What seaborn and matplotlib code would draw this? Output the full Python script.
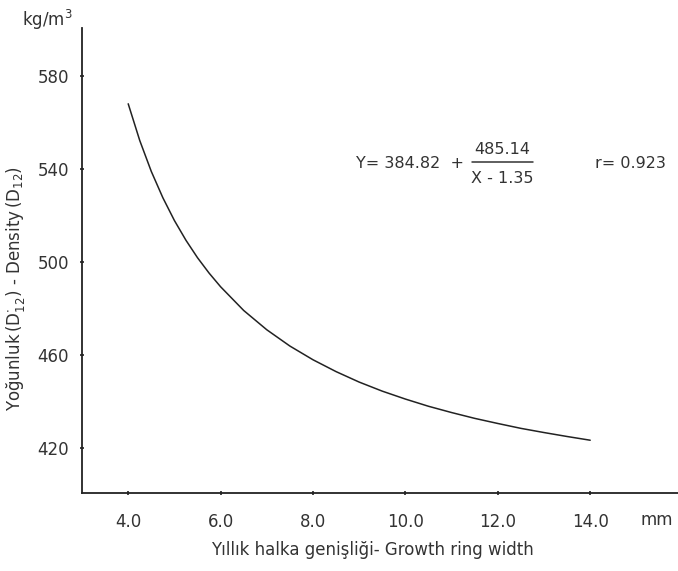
import matplotlib
matplotlib.use("Agg")
import matplotlib.pyplot as plt
import seaborn as sns
import pandas as pd
from matplotlib.lines import Line2D

# Values
ring_width = [4.0, 4.25, 4.5, 4.75, 5.0, 5.25, 5.5, 5.75, 6.0, 6.5, 7.0, 7.5, 8.0, 8.5,
              9.0, 9.5, 10.0, 10.5, 11.0, 11.5, 12.0, 12.5, 13.0, 13.5, 14.0]
density = [567.9, 552.1, 538.8, 527.5, 517.7, 509.2, 501.7, 495.1, 489.2, 479.0, 470.7,
           463.7, 457.8, 452.7, 448.2, 444.3, 440.9, 437.8, 435.1, 432.6, 430.4,
           428.3, 426.5, 424.8, 423.2]
x_ticks = [4.0, 6.0, 8.0, 10.0, 12.0, 14.0]
x_tick_labels = ["4.0", "6.0", "8.0", "10.0", "12.0", "14.0"]
y_ticks = [420, 460, 500, 540, 580]
y_tick_labels = ["420", "460", "500", "540", "580"]

df = pd.DataFrame({"x": ring_width, "y": density})

sns.set_style("ticks")
plt.rcParams["font.family"] = ["DejaVu Sans"]
plt.rcParams["mathtext.default"] = "regular"

W, H = 678, 571
fig = plt.figure(figsize=(W / 100, H / 100), dpi=100)
ax = fig.add_axes([82 / W, (H - 493) / H, (W - 82) / W, (493 - 28) / H])

sns.lineplot(data=df, x="x", y="y", ax=ax, color="#222222", linewidth=1.1)

ax.set_xlim(3.0, 15.9)
ax.set_ylim(400.5, 600.5)
ax.set_xticks(x_ticks)
ax.set_xticklabels(x_tick_labels)
ax.set_yticks(y_ticks)
ax.set_yticklabels(y_tick_labels)
ax.set_xlabel("")
ax.set_ylabel("")
sns.despine(ax=ax)
for s in ["left", "bottom"]:
    ax.spines[s].set_linewidth(1.3)
    ax.spines[s].set_color("#222222")
ax.tick_params(axis="both", direction="inout", length=3, width=1.2, colors="#222222",
               labelsize=12, labelcolor="#333333")
ax.tick_params(axis="x", pad=13)
ax.tick_params(axis="y", pad=8)

def fx(px):
    return px / W

def fy(py):
    return 1 - py / H

tc = "#333333"
fig.text(fx(47), fy(20), "kg/m$^3$", ha="center", va="center", fontsize=12, color=tc)
fig.text(fx(16), fy(288), r"Yoğunluk$\,(D^{\cdot}_{12})$ - Density$\,(D_{12})$",
         rotation=90, ha="center", va="center", fontsize=12, color=tc)
fig.text(fx(372), fy(550), "Yıllık halka genişliği- Growth ring width",
         ha="center", va="center", fontsize=12, color=tc)
fig.text(fx(657), fy(520), "mm", ha="center", va="center", fontsize=12, color=tc)

fig.text(fx(410), fy(163), "Y= 384.82  +", ha="center", va="center", fontsize=11.5, color=tc)
fig.text(fx(502), fy(150), "485.14", ha="center", va="center", fontsize=11.5, color=tc)
fig.text(fx(502), fy(178), "X - 1.35", ha="center", va="center", fontsize=11.5, color=tc)
fig.add_artist(Line2D([fx(472), fx(533)], [fy(162), fy(162)], color="#333333", linewidth=1.1,
                      transform=fig.transFigure))
fig.text(fx(630), fy(163), "r= 0.923", ha="center", va="center", fontsize=11.5, color=tc)

fig.savefig("out.png", dpi=100)
